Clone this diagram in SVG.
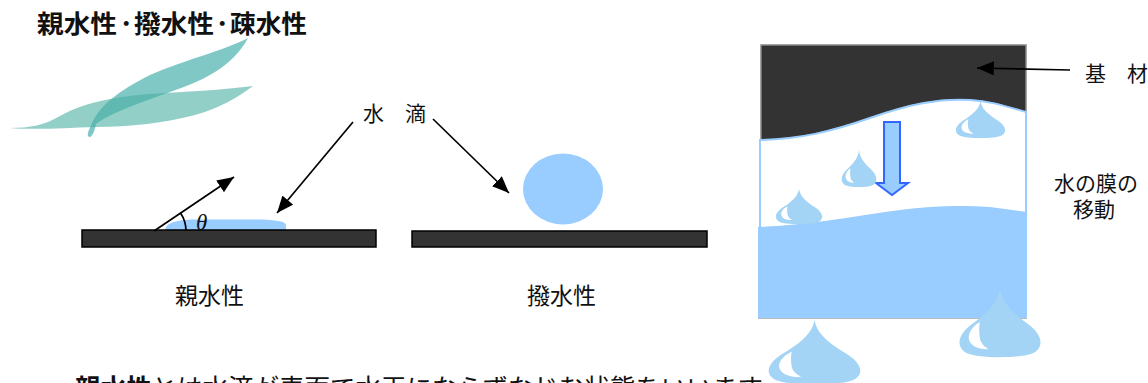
<svg xmlns="http://www.w3.org/2000/svg" width="1148" height="383" viewBox="0 0 1148 383">
  <style>
    .jp { font-family: "Noto Sans CJK JP", "Liberation Sans", sans-serif; fill: #111; }
    .title { font-size: 25px; font-weight: bold; }
    .lbl { font-size: 21px; }
    .cap { font-size: 23px; }
    .body { font-size: 25.5px; }
    .conn { stroke: #000; stroke-width: 1.7; fill: none; }
    .bar { fill: #333; stroke: #000; stroke-width: 1.5; }
    .water { fill: #99ccff; }
  </style>
  <defs>
    <marker id="ah" viewBox="0 0 12 10" refX="12" refY="5" markerWidth="17" markerHeight="14" markerUnits="userSpaceOnUse" orient="auto">
      <path d="M0,0 L12,5 L0,10 Z" fill="#000"/>
    </marker>
    <!-- teardrop with a white highlight, tip at top centre -->
    <symbol id="drop" viewBox="0 0 100 100" preserveAspectRatio="none">
      <path d="M50,0 C52,18 62,32 80,48 C98,62 104,80 92,90 C80,100 20,100 8,90 C-4,80 2,62 20,48 C38,32 48,18 50,0 Z" fill="#a3d4f5"/>
      <path d="M26,48 C14,56 9,70 16,79 C21,85 30,87 36,86 C34,84 27,80 26,70 C25,62 25,55 26,48 Z" fill="#fff"/>
    </symbol>
  </defs>

  <!-- heading -->
  <g id="title" class="jp title">
    <text x="37" y="33" textLength="80" lengthAdjust="spacingAndGlyphs">親水性</text>
    <text x="120" y="33">･</text>
    <text x="134" y="33" textLength="80" lengthAdjust="spacingAndGlyphs">撥水性</text>
    <text x="216" y="33">･</text>
    <text x="230" y="33" textLength="77" lengthAdjust="spacingAndGlyphs">疎水性</text>
  </g>

  <!-- leaves -->
  <g id="leaves">
    <path d="M248,38 C225,50 185,60 150,75 C120,90 100,105 92,123 C89,130 86,135 89,137 C92,138 95,130 96,124 C110,113 140,103 170,92 C200,82 232,68 248,38 Z" fill="#2aa39e" fill-opacity="0.6"/>
    <path d="M10,128 C30,128 45,125 60,116 C85,102 120,95 165,93 C200,91 230,89 253,86 C240,96 220,108 195,115 C165,123 130,127 95,127 C65,128 35,130 10,128 Z" fill="#4aafa2" fill-opacity="0.6"/>
  </g>

  <!-- hydrophilic surface -->
  <g id="hydrophilic">
    <path d="M165,230 C166,223 175,220 195,219.5 L262,219.5 C278,220 286,222 286,225 L286,230 Z" class="water"/>
    <rect x="82" y="230" width="294" height="17" class="bar"/>
    <path d="M186,231 A32,32 0 0 0 180.5,213" class="conn" stroke-width="1.6"/>
    <text x="196" y="230" font-family="Liberation Serif, serif" font-style="italic" font-size="23" fill="#111">θ</text>
    <text x="175" y="304" class="jp cap">親水性</text>
  </g>

  <!-- water-repellent surface -->
  <g id="repellent">
    <ellipse cx="563" cy="189" rx="40" ry="35.5" class="water"/>
    <rect x="412" y="231" width="295" height="16" class="bar"/>
    <text x="527" y="304" class="jp cap">撥水性</text>
  </g>

  <!-- droplet label -->
  <g id="label-drop">
    <text x="363" y="121" class="jp lbl">水　滴</text>
  </g>

  <!-- substrate with moving water film -->
  <g id="film">
    <path d="M761,45 L1026,45 L1026,112 C1005,106 990,101 970,100 C940,98 910,104 870,118 C830,132 800,139 761,140 Z" fill="#333" stroke="#888" stroke-width="1.5"/>
    <path d="M760,140 C800,139 830,132 870,118 C910,104 940,98 970,100 C990,101 1005,106 1026,112 L1026,215 L760,228 Z" fill="#fff" stroke="#99ccff" stroke-width="2"/>
    <path d="M758,227 C800,226 850,217 900,210 C930,206 960,205 990,207 L1027,212 L1027,318 L758,318 Z" class="water"/>
    <line x1="758" y1="318.5" x2="1027" y2="318.5" stroke="#bbb" stroke-width="1"/>
    <path d="M884,122 L900,122 L900,183 L908,183 L892,195 L876,183 L884,183 Z" fill="#99ccff" stroke="#3366ff" stroke-width="2" stroke-linejoin="miter"/>
    <use href="#drop" x="955" y="101" width="51" height="38"/>
    <use href="#drop" x="841" y="150" width="36" height="38"/>
    <use href="#drop" x="775" y="189" width="48" height="36"/>
    <use href="#drop" x="767" y="320" width="95" height="66"/>
    <use href="#drop" x="958" y="288" width="84" height="71"/>
  </g>

  <g id="label-base">
    <text x="1085" y="81" class="jp lbl">基　材</text>
  </g>
  <g id="label-move" class="jp lbl" text-anchor="middle">
    <text x="1096" y="191">水の膜の</text>
    <text x="1094" y="217">移動</text>
  </g>

  <!-- connectors -->
  <g id="connectors">
    <line x1="154" y1="231" x2="234" y2="177" class="conn" marker-end="url(#ah)"/>
    <line x1="353" y1="122" x2="277" y2="213" class="conn" marker-end="url(#ah)"/>
    <line x1="433" y1="119" x2="509" y2="193" class="conn" marker-end="url(#ah)"/>
    <line x1="1070" y1="70" x2="977" y2="68" class="conn" marker-end="url(#ah)"/>
  </g>

  <!-- explanatory sentence, running past the lower edge -->
  <g id="caption">
    <text x="75" y="397" class="jp body"><tspan font-weight="bold">親水性</tspan>とは水滴が表面で水玉にならずなじむ状態をいいます</text>
  </g>
</svg>
